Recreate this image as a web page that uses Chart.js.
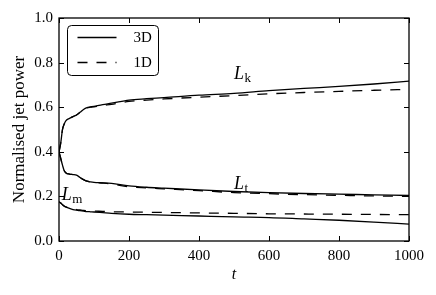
<!DOCTYPE html>
<html><head><meta charset="utf-8">
<script src="https://cdn.jsdelivr.net/npm/chart.js@4/dist/chart.umd.min.js"></script>
<style>html,body{margin:0;padding:0;background:#fff}#wrap{width:436px;height:295px;position:relative}</style>
</head><body><div id="wrap"><canvas id="c"></canvas></div>
<script>
// ---- data ----
const tValues = [0,5,10,15,20,30,40,50,60,70,80,90,100,125,150,200,250,300,400,500,600,700,800,900,1000];
const lk3D = [0.40,0.44,0.50,0.525,0.54,0.55,0.558,0.565,0.577,0.59,0.598,0.601,0.604,0.612,0.618,0.632,0.638,0.643,0.654,0.662,0.674,0.684,0.693,0.704,0.717];
const lk1D = [0.40,0.44,0.50,0.525,0.54,0.55,0.558,0.565,0.577,0.59,0.597,0.600,0.602,0.608,0.613,0.626,0.632,0.637,0.645,0.652,0.660,0.666,0.671,0.676,0.680];
const lt3D = [0.40,0.37,0.34,0.315,0.305,0.300,0.298,0.295,0.285,0.275,0.268,0.265,0.263,0.261,0.258,0.247,0.241,0.237,0.229,0.222,0.217,0.213,0.210,0.207,0.204];
const lt1D = [0.40,0.37,0.34,0.315,0.305,0.300,0.298,0.295,0.285,0.275,0.268,0.265,0.263,0.260,0.256,0.243,0.238,0.234,0.226,0.217,0.212,0.208,0.205,0.202,0.200];
const lm3D = [0.176,0.170,0.163,0.156,0.152,0.146,0.141,0.138,0.136,0.134,0.132,0.131,0.130,0.127,0.124,0.120,0.118,0.116,0.112,0.108,0.105,0.099,0.093,0.085,0.076];
const lm1D = [0.176,0.170,0.163,0.157,0.153,0.148,0.144,0.141,0.139,0.137,0.136,0.135,0.134,0.133,0.131,0.130,0.129,0.128,0.126,0.124,0.122,0.121,0.120,0.119,0.118];
const xTickValues = [0,200,400,600,800,1000];
const yTickValues = [0.0,0.2,0.4,0.6,0.8,1.0];
const legendLabels = ['3D','1D'];
const curveNames = [['L','k'],['L','t'],['L','m']];

const SERIF = "'Liberation Serif','DejaVu Serif',serif";
const DASH = [10,9];
const pts = arr => tValues.map((t,i)=>({x:t,y:arr[i]}));
function ds(label, arr, dashed){
  return {label, data:pts(arr), borderColor:'#000', borderWidth:1.3, borderDash: dashed?DASH:[],
    pointRadius:0, fill:false, cubicInterpolationMode:'monotone'};
}

const decor = {
  id:'decor',
  afterDraw(chart){
    const {ctx, chartArea:{left,right,top,bottom}, scales:{x,y}} = chart;
    ctx.save();
    ctx.strokeStyle='#000'; ctx.lineWidth=1;
    const L=5;
    const seg=(a,b,c,d)=>{ctx.beginPath();ctx.moveTo(a,b);ctx.lineTo(c,d);ctx.stroke();};
    xTickValues.forEach(v=>{const p=Math.round(x.getPixelForValue(v))+0.5; seg(p,bottom,p,bottom-L); seg(p,top,p,top+L);});
    yTickValues.forEach(v=>{const p=Math.round(y.getPixelForValue(v))+0.5; seg(left,p,left+L,p); seg(right,p,right-L,p);});
    ctx.lineWidth=1.3;
    ctx.strokeRect(left,top,right-left,bottom-top);

    // curve labels
    const anchors=[[500,0.726],[500,0.233],[8,0.182]];
    curveNames.forEach((nm,i)=>{
      const px=x.getPixelForValue(anchors[i][0]), py=y.getPixelForValue(anchors[i][1]);
      ctx.fillStyle='#000'; ctx.textBaseline='alphabetic'; ctx.textAlign='left';
      ctx.font='italic 18px '+SERIF;
      ctx.fillText(nm[0],px,py);
      const w=ctx.measureText(nm[0]).width;
      ctx.font='13px '+SERIF;
      ctx.fillText(nm[1],px+w+0.5,py+3);
    });

    // legend
    const bx=left+8.5, by=top+7.5, bw=91, bh=50;
    ctx.lineWidth=1;
    ctx.beginPath();
    if(ctx.roundRect){ctx.roundRect(bx,by,bw,bh,4);} else {ctx.rect(bx,by,bw,bh);}
    ctx.fillStyle='#fff'; ctx.fill(); ctx.stroke();
    legendLabels.forEach((lab,i)=>{
      const ly=by+12+i*25;
      ctx.lineWidth=1.3; ctx.setLineDash(i===0?[]:DASH);
      seg(bx+10,ly,bx+49,ly);
      ctx.setLineDash([]);
      ctx.fillStyle='#000'; ctx.font='15px '+SERIF; ctx.textBaseline='middle'; ctx.textAlign='left';
      ctx.fillText(lab,bx+66,ly+1);
    });
    ctx.restore();
  }
};

new Chart(document.getElementById('c'),{
  type:'line',
  data:{datasets:[ds('3D Lk',lk3D,false),ds('1D Lk',lk1D,true),ds('3D Lt',lt3D,false),ds('1D Lt',lt1D,true),ds('3D Lm',lm3D,false),ds('1D Lm',lm1D,true)]},
  options:{
    responsive:true, maintainAspectRatio:false, animation:false, devicePixelRatio:1,
    layout:{padding:{top:18,right:27,left:0,bottom:0}},
    plugins:{legend:{display:false},tooltip:{enabled:false}},
    scales:{
      x:{type:'linear',min:0,max:1000,
        afterBuildTicks:s=>{s.ticks=xTickValues.map(v=>({value:v}));},
        afterFit:s=>{s.height=54;},
        grid:{display:false,drawTicks:false},border:{display:false},
        ticks:{color:'#000',padding:6,font:{family:SERIF,size:15},maxRotation:0,callback:v=>String(v)},
        title:{display:true,text:'t',color:'#000',font:{family:SERIF,size:16,style:'italic'},padding:{top:0,bottom:11}}},
      y:{type:'linear',min:0,max:1,
        afterBuildTicks:s=>{s.ticks=yTickValues.map(v=>({value:v}));},
        afterFit:s=>{s.width=59;},
        grid:{display:false,drawTicks:false},border:{display:false},
        ticks:{color:'#000',padding:6,font:{family:SERIF,size:15},callback:v=>Number(v).toFixed(1)},
        title:{display:true,text:'Normalised jet power',color:'#000',font:{family:SERIF,size:17},padding:{top:9,bottom:0}}}
    }
  },
  plugins:[decor]
});
</script></body></html>
